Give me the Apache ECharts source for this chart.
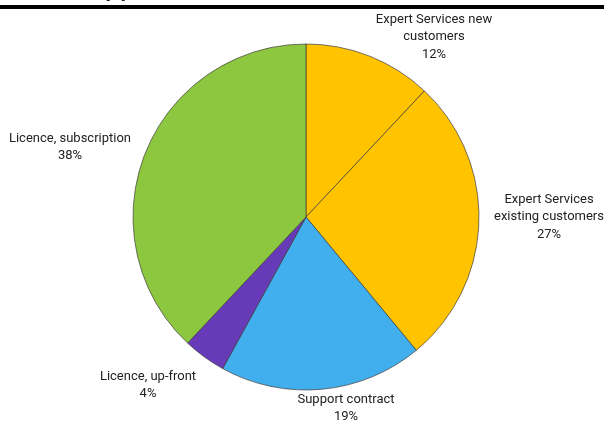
<!DOCTYPE html>
<html>
<head>
<meta charset="utf-8">
<script src="https://cdn.jsdelivr.net/npm/echarts@6/dist/echarts.min.js"></script>
<style>
  html, body { margin: 0; padding: 0; background: #fff; }
  #chart { width: 604px; height: 423px; }
</style>
</head>
<body>
<div id="chart"></div>
<script>
// Revenue split by product type (percent of total)
const categories = [
  'Expert Services new\ncustomers',
  'Expert Services\nexisting customers',
  'Support contract',
  'Licence, up-front',
  'Licence, subscription'
];
const shares = [12, 27, 19, 4, 38];
const colors = ['#FFC300', '#FFC300', '#41AFEE', '#673AB7', '#8DC63F'];

// label anchor points (centre of each text block)
const labelAnchors = [[434, 37], [549, 217], [346, 408], [148, 385], [70, 147]];

const chart = echarts.init(document.getElementById('chart'), null, { renderer: 'canvas' });

chart.setOption({
  animation: false,
  backgroundColor: '#fff',
  graphic: [
    {
      type: 'text', left: 12, top: -18,
      style: { text: 'Revenue by product', font: 'bold 20px Roboto', fill: '#111' }
    },
    {
      type: 'rect', shape: { x: 0, y: 5, width: 604, height: 4 },
      style: { fill: '#000' }
    }
  ],
  series: [{
    type: 'pie',
    center: [306, 217],
    radius: 173,
    startAngle: 90,
    clockwise: true,
    avoidLabelOverlap: false,
    itemStyle: { borderColor: '#3c3c3c', borderWidth: 0.7 },
    label: {
      show: true,
      position: 'outside',
      formatter: p => p.name + '\n' + p.value + '%',
      fontFamily: 'Roboto',
      fontSize: 13,
      lineHeight: 17.5,
      color: '#222',
      align: 'center'
    },
    labelLine: { show: false },
    labelLayout: params => {
      const a = labelAnchors[params.dataIndex];
      return { x: a[0], y: a[1], align: 'center', verticalAlign: 'middle' };
    },
    emphasis: { disabled: true },
    data: categories.map((c, i) => ({ name: c, value: shares[i], itemStyle: { color: colors[i] } }))
  }]
});
</script>
</body>
</html>
